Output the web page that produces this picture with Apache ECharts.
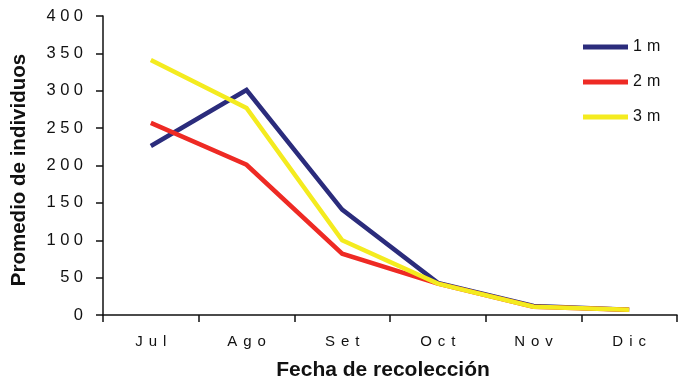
<!DOCTYPE html>
<html>
<head>
<meta charset="utf-8">
<script src="https://cdn.jsdelivr.net/npm/echarts@6/dist/echarts.min.js"></script>
<style>
  html, body { margin: 0; padding: 0; background: #fff; }
  #chart { width: 678px; height: 381px; }
</style>
</head>
<body>
<div id="chart"></div>
<script>
// Monthly average counts per collection depth
const months = ['Jul', 'Ago', 'Set', 'Oct', 'Nov', 'Dic'];
const depth1m = [226, 301, 141, 43, 12, 7];
const depth2m = [257, 201, 82, 42, 11, 7];
const depth3m = [341, 277, 100, 42, 11, 7];
const seriesNames = ['1m', '2m', '3m'];
const seriesColors = ['#2b2c7c', '#ee2a24', '#f4eb1f'];

const font = 'Liberation Sans, Arial, Helvetica, sans-serif';
const ink = '#111';

// Tracked (letter-spaced) text built from rich-text fragments
function tracked(text) {
  const chars = String(text).split('');
  return chars.map((c, i) => (i < chars.length - 1 ? '{s|' + c + '}' : '{e|' + c + '}')).join('');
}
function trackedRich(size, gap) {
  const base = { fontFamily: font, fontSize: size, color: ink, lineHeight: size + 1 };
  return {
    s: Object.assign({}, base, { padding: [0, gap, 0, 0] }),
    e: Object.assign({}, base)
  };
}

const chart = echarts.init(document.getElementById('chart'));

function lineSeries(name, data, color) {
  return {
    name: name,
    type: 'line',
    data: data,
    symbol: 'none',
    smooth: false,
    lineStyle: { color: color, width: 4.5, cap: 'butt', join: 'miter' },
    itemStyle: { color: color },
    animation: false
  };
}

chart.setOption({
  animation: false,
  grid: { left: 103, right: 1, top: 16, bottom: 66, containLabel: false, outerBoundsMode: 'none' },
  legend: {
    orient: 'vertical',
    left: 583,
    top: 39,
    padding: 0,
    itemWidth: 45,
    itemHeight: 5,
    itemGap: 19,
    icon: 'rect',
    formatter: (name) => tracked(name),
    textStyle: { fontFamily: font, fontSize: 16, color: ink, rich: trackedRich(16, 5) },
    data: seriesNames
  },
  xAxis: {
    type: 'category',
    data: months,
    boundaryGap: true,
    name: 'Fecha de recolección',
    nameLocation: 'middle',
    nameGap: 45,
    nameTextStyle: { fontFamily: font, fontSize: 21, fontWeight: 'bold', color: ink, padding: [0, 14, 0, 0] },
    axisLine: { lineStyle: { color: ink, width: 1.5 } },
    axisTick: { show: true, length: 7, inside: false, interval: 0, lineStyle: { color: ink, width: 1.5 } },
    axisLabel: {
      interval: 0,
      hideOverlap: false,
      fontFamily: font, fontSize: 15, color: ink, margin: 19,
      formatter: (v) => tracked(v),
      rich: trackedRich(15, 6)
    },
    splitLine: { show: false }
  },
  yAxis: {
    type: 'value',
    min: 0,
    max: 400,
    interval: 50,
    name: 'Promedio de individuos',
    nameLocation: 'middle',
    nameGap: 73,
    nameTextStyle: { fontFamily: font, fontSize: 20.5, fontWeight: 'bold', color: ink, padding: [0, 9, 0, 0] },
    axisLine: { show: true, lineStyle: { color: ink, width: 1.5 } },
    axisTick: { show: true, length: 7, inside: false, lineStyle: { color: ink, width: 1.5 } },
    axisLabel: {
      fontFamily: font, fontSize: 16.5, color: ink, margin: 20,
      formatter: (v) => tracked(v),
      rich: trackedRich(16.5, 4.5)
    },
    splitLine: { show: false }
  },
  series: [
    lineSeries(seriesNames[0], depth1m, seriesColors[0]),
    lineSeries(seriesNames[1], depth2m, seriesColors[1]),
    lineSeries(seriesNames[2], depth3m, seriesColors[2])
  ]
});
</script>
</body>
</html>
